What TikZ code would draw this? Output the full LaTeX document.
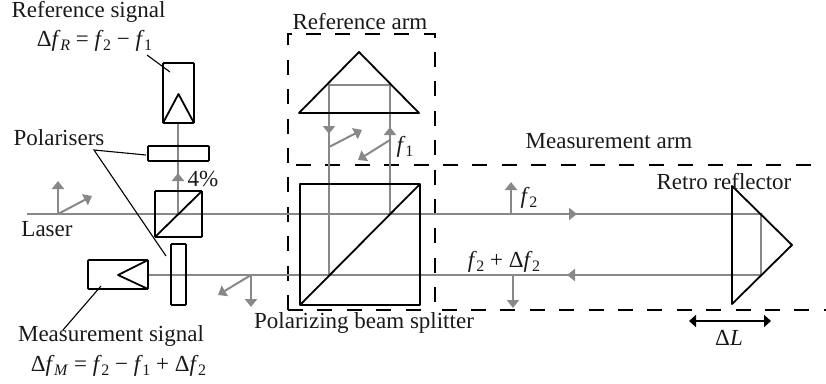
\documentclass[tikz,border=0pt]{standalone}
\usepackage{fontspec}
\setmainfont{Liberation Serif}
\usetikzlibrary{arrows.meta}
\definecolor{beam}{HTML}{888888}
\newcommand{\sbs}[1]{\kern-0.5pt\raisebox{-3.5pt}{\fontsize{16}{16}\selectfont #1}}
\newcommand{\fq}[1]{\textit{f}\sbs{#1}}
\tikzset{
  x=1pt,y=-1pt,
  every node/.style={inner sep=0pt,outer sep=0pt},
  lbl/.style={font=\fontsize{23}{26}\selectfont,text=black!90},
  optic/.style={draw=black,line width=1.8pt,line join=round},
  box/.style={optic,rectangle,rounded corners=0.8pt,anchor=north west},
  ray/.style={draw=beam,line width=2pt},
  rayarrow/.style={ray,-{Triangle[length=8pt,width=12pt]}},
  leader/.style={draw=black,line width=1.1pt},
  arm/.style={draw=black,line width=1.9pt,dash pattern=on 15pt off 14.4pt},
  move/.style={draw=black,line width=2pt,{Triangle[length=7pt,width=12pt]}-{Triangle[length=7pt,width=12pt]}}
}
\begin{document}
\begin{tikzpicture}
\useasboundingbox (0,0) rectangle (826,383);
% named points
\coordinate (laserstart) at (27,214);
\coordinate (laserup) at (58,181);
\coordinate (laserob) at (92,196);
\coordinate (laserorg) at (58,214);
\coordinate (split1) at (178,214);
\coordinate (ret) at (761,214);
\coordinate (ret2) at (761,275);
\coordinate (split2) at (329,275);
\coordinate (split3) at (390,214);
\coordinate (rt1) at (329,85);
\coordinate (rt2) at (390,85);
\coordinate (dn1) at (329,134);
\coordinate (up1) at (390,127);
\coordinate (det2in) at (148,275);
\coordinate (det1in) at (178,123);
\coordinate (up4) at (178,173);
\coordinate (ob1s) at (329,147);
\coordinate (ob1e) at (362,130);
\coordinate (ob2s) at (390,140);
\coordinate (ob2e) at (358,160);
\coordinate (f2s) at (511,214);
\coordinate (f2e) at (511,182);
\coordinate (df2s) at (513,275);
\coordinate (df2e) at (513,308);
\coordinate (pols) at (251,275);
\coordinate (pold) at (251,307);
\coordinate (polo) at (218,295);
\coordinate (fwd) at (577,214);
\coordinate (bwd) at (567,275);
% dashed arm frames
\coordinate (a1) at (288,310);
\coordinate (a2) at (288,34);
\coordinate (a3) at (435,34);
\coordinate (a4) at (435,310);
\coordinate (a5) at (826,310);
\coordinate (a6) at (296,165);
\coordinate (a7) at (812,165);
\coordinate (a8) at (421,310);
\draw[arm] (a1) -- (a2) -- (a3) -- (a4) -- (a5);
\draw[arm] (a6) -- (a7);
\draw[arm] (a1) -- (a8);
% rays
\draw[ray] (det1in) -- (split1);
\draw[ray] (laserstart) -- (ret) -- (ret2) -- (det2in);
\draw[ray] (split2) -- (rt1) -- (rt2) -- (split3);
\draw[rayarrow] (laserorg) -- (laserup);
\draw[rayarrow] (laserorg) -- (laserob);
\draw[rayarrow] (split1) -- (up4);
\draw[rayarrow] (rt1) -- (dn1);
\draw[rayarrow] (split3) -- (up1);
\draw[rayarrow] (ob1s) -- (ob1e);
\draw[rayarrow] (ob2s) -- (ob2e);
\draw[rayarrow] (f2s) -- (f2e);
\draw[rayarrow] (df2s) -- (df2e);
\draw[rayarrow] (pols) -- (pold);
\draw[rayarrow] (pols) -- (polo);
\draw[rayarrow] (laserstart) -- (fwd);
\draw[rayarrow] (ret2) -- (bwd);
% optics
\node[box,minimum width=31pt,minimum height=60pt] (det1) at (163,63) {};
\draw[optic] (det1.south west) -- (178.5,94) -- (det1.south east);
\node[box,minimum width=61pt,minimum height=15pt] (pol1) at (148,146) {};
\node[box,minimum width=47pt,minimum height=46pt] (cube1) at (155,191) {};
\draw[optic] (cube1.south west) -- (cube1.north east);
\node[box,minimum width=15pt,minimum height=61pt] (pol2) at (171,244) {};
\node[box,minimum width=60pt,minimum height=29pt] (det2) at (88,260) {};
\draw[optic] (det2.north east) -- (118,275) -- (det2.south east);
\node[box,rounded corners=0pt,minimum width=120pt,minimum height=121pt] (cube2) at (300,184) {};
\draw[optic] (cube2.south west) -- (cube2.north east);
\draw[optic] (299,113) -- (359,52) -- (419,113) -- cycle;
\draw[optic] (732,186) -- (792,245) -- (732,304) -- cycle;
% labels
\node[lbl] (tref) at (88.5,12) {Reference signal};
\node[lbl] (fref) at (94.5,41) {Δ\textit{f}\sbs{\textit{R}} = \fq{2} − \fq{1}};
\node[lbl] (tpol) at (59,138) {Polarisers};
\node[lbl] (tfour) at (203,179) {4\%};
\node[lbl] (tlaser) at (47,229) {Laser};
\node[lbl] (tmeas) at (111,336) {Measurement signal};
\node[lbl] (fmeas) at (118.5,366) {Δ\textit{f}\sbs{\textit{M}} = \fq{2} − \fq{1} + Δ\fq{2}};
\node[lbl] (tarm) at (360,22) {Reference arm};
\node[lbl] (tmarm) at (609,141) {Measurement arm};
\node[lbl] (tretro) at (724,182) {Retro reflector};
\node[lbl] (tpbs) at (364,323) {Polarizing beam splitter};
\node[lbl] (tf1) at (405,147) {\fq{1}};
\node[lbl] (tf2) at (529,198) {\fq{2}};
\node[lbl] (tdf2) at (504,262) {\fq{2} + Δ\fq{2}};
\node[lbl] (tdl) at (729,338) {Δ\textit{L}};
% leaders
\coordinate (lr) at (147,55);
\coordinate (lr2) at (170,72);
\coordinate (lp) at (94,150);
\coordinate (lp1) at (146,155);
\coordinate (lp2) at (166,256);
\coordinate (lm) at (63,330);
\coordinate (lm2) at (101,286);
\draw[leader] (lr) -- (lr2);
\draw[leader] (lp1) -- (lp) -- (lp2);
\draw[leader] (lm) -- (lm2);
% travel
\coordinate (dl1) at (689,321);
\coordinate (dl2) at (771,321);
\draw[move] (dl1) -- (dl2);
\end{tikzpicture}
\end{document}
